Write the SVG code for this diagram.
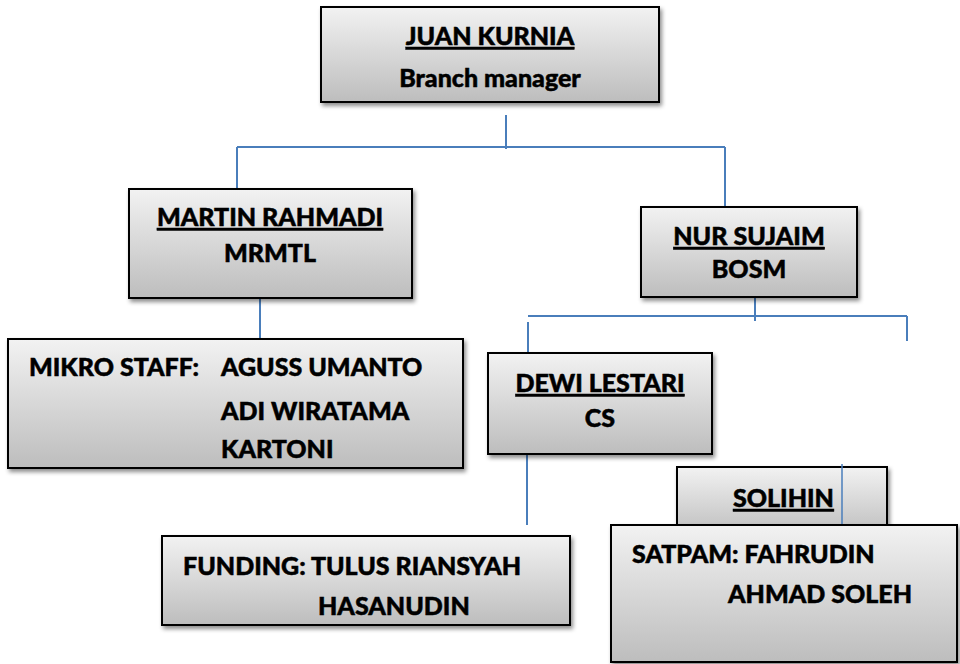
<svg xmlns="http://www.w3.org/2000/svg" width="960" height="664" viewBox="0 0 960 664">
<style>
.box{fill:url(#g);stroke:#000;stroke-width:2;filter:url(#sh)}
.t{font-family:Lato,"Liberation Sans",sans-serif;font-weight:900;font-size:25px;fill:#000;stroke:#000;stroke-width:0.5}
.c{text-anchor:middle}
.u{text-decoration:underline}
.ln{stroke:#4a7ebb;stroke-width:2;fill:none}
</style>
<defs>
<linearGradient id="g" x1="0" y1="0" x2="0" y2="1">
<stop offset="0" stop-color="#f2f2f2"/>
<stop offset="1" stop-color="#bdbdbd"/>
</linearGradient>
<filter id="sh" x="-10%" y="-10%" width="130%" height="140%">
<feDropShadow dx="2" dy="3" stdDeviation="2" flood-color="#000" flood-opacity="0.45"/>
</filter>
</defs>
<g id="connectors">
<path class="ln" d="M506 115V149M237 147H725M237 147V189M725 147V207"/>
<path class="ln" d="M260 286V339"/>
<path class="ln" d="M755 294V321M528 316H907M528 322V353M907 316V341"/>
<path class="ln" d="M527 454V525"/>
</g>
<g id="juan">
<rect class="box" x="321" y="7" width="338" height="95"/>
<text class="t c u" x="490" y="45">JUAN KURNIA</text>
<text class="t c" x="490" y="87">Branch manager</text>
</g>
<g id="martin">
<rect class="box" x="129" y="189" width="283" height="109"/>
<text class="t c u" x="270" y="226">MARTIN RAHMADI</text>
<text class="t c" x="270" y="262">MRMTL</text>
</g>
<g id="nur">
<rect class="box" x="641" y="207" width="216" height="90"/>
<text class="t c u" x="749" y="245">NUR SUJAIM</text>
<text class="t c" x="749" y="278">BOSM</text>
</g>
<g id="mikro">
<rect class="box" x="8" y="339" width="455" height="129"/>
<text class="t" x="29" y="376">MIKRO STAFF:</text>
<text class="t" x="221" y="376">AGUSS UMANTO</text>
<text class="t" x="221" y="420">ADI WIRATAMA</text>
<text class="t" x="221" y="458">KARTONI</text>
</g>
<g id="dewi">
<rect class="box" x="488" y="353" width="224" height="101"/>
<text class="t c u" x="600" y="392">DEWI LESTARI</text>
<text class="t c" x="600" y="427">CS</text>
</g>
<g id="funding">
<rect class="box" x="162" y="536" width="408" height="89"/>
<text class="t" x="183" y="575">FUNDING: TULUS RIANSYAH</text>
<text class="t" x="318" y="615">HASANUDIN</text>
</g>
<g id="solihin">
<rect class="box" x="677" y="467" width="210" height="70"/>
<text class="t u" x="733" y="507">SOLIHIN</text>
<path d="M842 464V525" stroke="#4a7ebb" stroke-width="1.5"/>
</g>
<g id="satpam">
<rect class="box" x="611" y="525" width="346" height="137"/>
<text class="t" x="632" y="563">SATPAM: FAHRUDIN</text>
<text class="t" x="728" y="603">AHMAD SOLEH</text>
</g>
</svg>
